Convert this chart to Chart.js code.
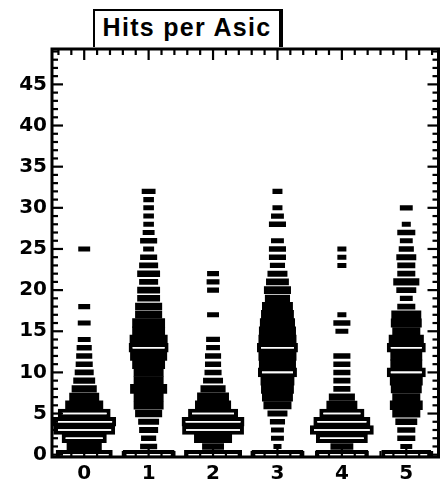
<!DOCTYPE html>
<html>
<head>
<meta charset="utf-8">
<script src="https://cdn.jsdelivr.net/npm/chart.js@4.4.1/dist/chart.umd.min.js"></script>
<style>
  html, body { margin: 0; padding: 0; background: #fff; }
  #wrap { position: relative; width: 445px; height: 482px; }
  #title {
    position: absolute; left: 93px; top: 9px;
    width: 184px; height: 36px;
    border: 2px solid #000; border-right-width: 4px; border-bottom: none;
    background: #fff;
    font: bold 25px 'Liberation Sans', Arial, sans-serif;
    letter-spacing: 1.3px;
    line-height: 33px; text-align: center;
    z-index: 2;
  }
</style>
</head>
<body>
<div id="wrap">
  <div id="title">Hits per Asic</div>
  <canvas id="chart" width="445" height="482"></canvas>
</div>
<script>
// events per number of hits (array index = hits), one array per asic
const asic0 = [177, 109, 140, 192, 198, 164, 118, 93, 78, 68, 59, 53, 50, 47, 40, 0, 40, 0, 37, 0, 0, 0, 0, 0, 0, 37];
const asic1 = [161, 53, 47, 59, 65, 84, 93, 93, 115, 93, 93, 102, 115, 124, 118, 102, 102, 84, 84, 71, 71, 59, 71, 59, 53, 34, 53, 37, 33, 33, 33, 33, 43];
const asic2 = [180, 68, 118, 192, 195, 155, 112, 99, 78, 62, 53, 50, 50, 43, 43, 0, 0, 37, 0, 0, 37, 40, 37];
const asic3 = [161, 25, 40, 40, 47, 62, 87, 96, 102, 105, 121, 115, 118, 127, 118, 115, 109, 102, 96, 78, 84, 71, 62, 47, 53, 53, 40, 0, 53, 40, 31, 0, 31];
const asic4 = [164, 71, 161, 198, 177, 140, 96, 81, 53, 53, 53, 53, 53, 0, 0, 40, 53, 28, 0, 0, 0, 0, 0, 28, 28, 28];
const asic5 = [155, 37, 56, 56, 68, 87, 102, 87, 96, 102, 121, 99, 99, 121, 109, 87, 96, 93, 56, 40, 62, 81, 56, 56, 62, 47, 40, 56, 28, 0, 40];

const asicLabels = ['0', '1', '2', '3', '4', '5'];
const yTickLabels = ['0', '5', '10', '15', '20', '25', '30', '35', '40', '45'];
const fullBox = 200;   // content that fills a whole cell

const asics = [asic0, asic1, asic2, asic3, asic4, asic5];

// one floating horizontal bar per filled cell, box-plot style
const datasets = [];
asics.forEach((events, asic) => {
  events.forEach((n, hits) => {
    if (!n) return;
    const r = n / fullBox;
    const hollow = r >= 0.6;
    const h = hollow ? 9.6 : Math.min(9.6, 5.1 + 36 * Math.max(0, r - 0.155) ** 2);
    datasets.push({
      data: [{ x: [asic - r / 2, asic + r / 2], y: hits }],
      barThickness: h,
      backgroundColor: hollow ? '#fff' : '#000',
      borderColor: '#000',
      borderWidth: hollow ? 4 : 0,
      borderSkipped: false,
      inflateAmount: 0,
      grouped: false,
      clip: 0
    });
  });
});

// frame with inward ticks on all four sides
const rootFrame = {
  id: 'rootFrame',
  afterDatasetsDraw(chart) {
    const ctx = chart.ctx;
    const a = chart.chartArea;
    const xs = chart.scales.x, ys = chart.scales.y;
    ctx.save();
    ctx.fillStyle = '#000';
    const tw = 2.2;
    for (let i = -2; i <= 27; i++) {
      const px = xs.getPixelForValue(i / 5);
      const len = i % 5 === 0 ? 11 : 6;
      ctx.fillRect(px - tw / 2, a.bottom - len, tw, len);
      ctx.fillRect(px - tw / 2, a.top, tw, len);
    }
    for (let v = 0; v <= 49; v++) {
      const py = ys.getPixelForValue(v);
      const len = v % 5 === 0 ? 11 : 6;
      ctx.fillRect(a.left, py - tw / 2, len, tw);
      ctx.fillRect(a.right - len, py - tw / 2, len, tw);
    }
    ctx.strokeStyle = '#000';
    ctx.lineWidth = 3;
    ctx.strokeRect(a.left, a.top, a.right - a.left, a.bottom - a.top);
    ctx.restore();
  }
};

const tickFont = { family: 'DejaVu Sans', size: 20, weight: 'bold' };

new Chart(document.getElementById('chart'), {
  type: 'bar',
  data: { datasets },
  options: {
    indexAxis: 'y',
    responsive: false,
    animation: false,
    events: [],
    layout: { padding: { top: 49, right: 6.5, left: 0, bottom: 0 } },
    plugins: { legend: { display: false }, tooltip: { enabled: false } },
    scales: {
      x: {
        type: 'linear', min: -0.5, max: 5.5,
        grid: { display: false, drawTicks: false }, border: { display: false },
        ticks: {
          autoSkip: false, maxRotation: 0,
          padding: 5, color: '#000', font: tickFont,
          callback: v => asicLabels[v] ?? ''
        },
        // one tick per asic, at the bin centres
        afterBuildTicks(s) { s.ticks = asicLabels.map((_, i) => ({ value: i })); },
        afterFit(s) { s.height = 25; s.paddingLeft = 0; s.paddingRight = 0; }
      },
      y: {
        type: 'linear', min: -0.28, max: 49.3, offset: false,
        grid: { display: false, drawTicks: false, offset: false }, border: { display: false },
        ticks: {
          stepSize: 5, includeBounds: false, autoSkip: false,
          padding: 5, color: '#000', font: tickFont,
          callback: v => yTickLabels[v / 5] ?? ''
        },
        afterFit(s) { s.width = 52; s.paddingTop = 0; s.paddingBottom = 0; }
      }
    }
  },
  plugins: [rootFrame]
});
</script>
</body>
</html>
